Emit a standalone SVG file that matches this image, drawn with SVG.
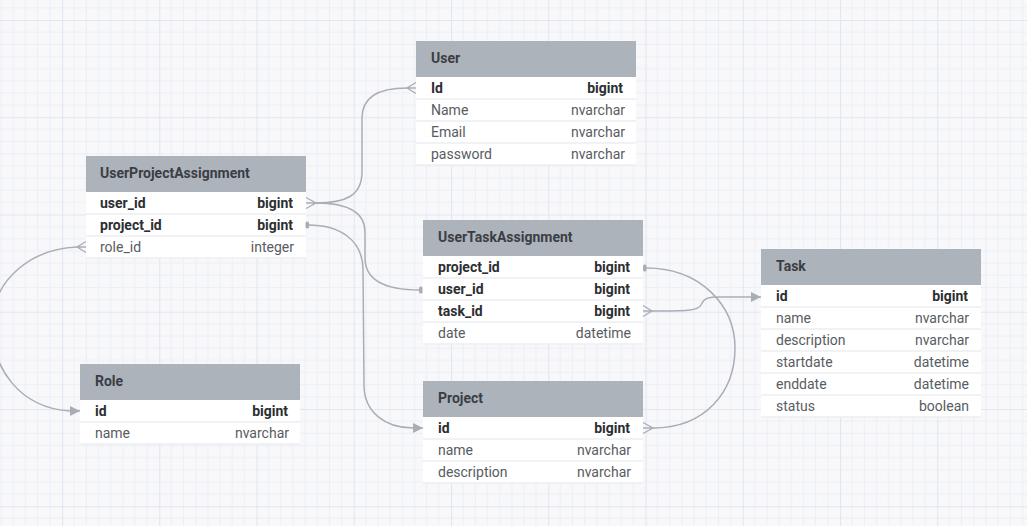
<svg xmlns="http://www.w3.org/2000/svg" width="1027" height="526" viewBox="0 0 1027 526">
  <style>
    .hdr { fill: #adb3bb; }
    .body { fill: #ffffff; }
    .sep { stroke: #eceef1; stroke-width: 1.5; }
    .title { font-family: Roboto, "Liberation Sans", sans-serif; font-size: 14px; font-weight: bold; fill: #3a3e44; }
    .k { font-family: Roboto, "Liberation Sans", sans-serif; font-size: 14px; font-weight: bold; fill: #2c2e32; }
    .f { font-family: Roboto, "Liberation Sans", sans-serif; font-size: 14px; fill: #585c62; }
    .r { text-anchor: end; }
    .conn { fill: none; stroke: #a9aeb6; stroke-width: 1.5; }
    .crow { fill: none; stroke: #a9aeb6; stroke-width: 1.3; }
    .one { fill: #a9aeb6; }
  </style>
  <defs>
    <pattern id="grid" patternUnits="userSpaceOnUse" x="62" y="20" width="97.25" height="97.25">
      <rect width="97.25" height="97.25" fill="#f8f8fa"/>
      <g stroke="#ebeff6" stroke-width="1">
        <path d="M12.16 0V97.25M24.31 0V97.25M36.47 0V97.25M48.63 0V97.25M60.78 0V97.25M72.94 0V97.25M85.09 0V97.25"/>
        <path d="M0 12.16H97.25M0 24.31H97.25M0 36.47H97.25M0 48.63H97.25M0 60.78H97.25M0 72.94H97.25M0 85.09H97.25"/>
      </g>
      <path d="M0.5 0V97.25M0 0.5H97.25" stroke="#e0e6f2" stroke-width="1.2"/>
    </pattern>
    <marker id="arrow" markerWidth="10" markerHeight="10" refX="10" refY="5" orient="auto" markerUnits="userSpaceOnUse">
      <path d="M0 0L10 5L0 10Z" fill="#a9aeb6"/>
    </marker>
  </defs>

  <rect width="1027" height="526" fill="url(#grid)"/>

  <!-- Tables -->
  <g id="UserProjectAssignment">
    <rect class="hdr" x="86" y="156" width="220" height="36"/>
    <rect class="body" x="86" y="192" width="220" height="66"/>
    <path class="sep" d="M86 214H306M86 236H306M86 258H306"/>
    <text class="title" x="100" y="178">UserProjectAssignment</text>
    <text class="k" x="100" y="208">user_id</text><text class="k r" x="293" y="208">bigint</text>
    <text class="k" x="100" y="230">project_id</text><text class="k r" x="293" y="230">bigint</text>
    <text class="f" x="100" y="252">role_id</text><text class="f r" x="294" y="252">integer</text>
  </g>

  <g id="User">
    <rect class="hdr" x="416" y="41" width="220" height="36"/>
    <rect class="body" x="416" y="77" width="220" height="88"/>
    <path class="sep" d="M416 99H636M416 121H636M416 143H636M416 165H636"/>
    <text class="title" x="431" y="63">User</text>
    <text class="k" x="431" y="93">Id</text><text class="k r" x="623" y="93">bigint</text>
    <text class="f" x="431" y="115">Name</text><text class="f r" x="625" y="115">nvarchar</text>
    <text class="f" x="431" y="137">Email</text><text class="f r" x="625" y="137">nvarchar</text>
    <text class="f" x="431" y="159">password</text><text class="f r" x="625" y="159">nvarchar</text>
  </g>

  <g id="UserTaskAssignment">
    <rect class="hdr" x="423" y="220" width="220" height="36"/>
    <rect class="body" x="423" y="256" width="220" height="88"/>
    <path class="sep" d="M423 278H643M423 300H643M423 322H643M423 344H643"/>
    <text class="title" x="438" y="242">UserTaskAssignment</text>
    <text class="k" x="438" y="272">project_id</text><text class="k r" x="630" y="272">bigint</text>
    <text class="k" x="438" y="294">user_id</text><text class="k r" x="630" y="294">bigint</text>
    <text class="k" x="438" y="316">task_id</text><text class="k r" x="630" y="316">bigint</text>
    <text class="f" x="438" y="338">date</text><text class="f r" x="631" y="338">datetime</text>
  </g>

  <g id="Task">
    <rect class="hdr" x="761" y="249" width="220" height="36"/>
    <rect class="body" x="761" y="285" width="220" height="132"/>
    <path class="sep" d="M761 307H981M761 329H981M761 351H981M761 373H981M761 395H981M761 417H981"/>
    <text class="title" x="776" y="271">Task</text>
    <text class="k" x="776" y="301">id</text><text class="k r" x="968" y="301">bigint</text>
    <text class="f" x="776" y="323">name</text><text class="f r" x="969" y="323">nvarchar</text>
    <text class="f" x="776" y="345">description</text><text class="f r" x="969" y="345">nvarchar</text>
    <text class="f" x="776" y="367">startdate</text><text class="f r" x="969" y="367">datetime</text>
    <text class="f" x="776" y="389">enddate</text><text class="f r" x="969" y="389">datetime</text>
    <text class="f" x="776" y="411">status</text><text class="f r" x="969" y="411">boolean</text>
  </g>

  <g id="Role">
    <rect class="hdr" x="80" y="364" width="220" height="36"/>
    <rect class="body" x="80" y="400" width="220" height="44"/>
    <path class="sep" d="M80 422H300M80 444H300"/>
    <text class="title" x="95" y="386">Role</text>
    <text class="k" x="95" y="416">id</text><text class="k r" x="288" y="416">bigint</text>
    <text class="f" x="95" y="438">name</text><text class="f r" x="289" y="438">nvarchar</text>
  </g>

  <g id="Project">
    <rect class="hdr" x="423" y="381" width="220" height="36"/>
    <rect class="body" x="423" y="417" width="220" height="66"/>
    <path class="sep" d="M423 439H643M423 461H643M423 483H643"/>
    <text class="title" x="438" y="403">Project</text>
    <text class="k" x="438" y="433">id</text><text class="k r" x="630" y="433">bigint</text>
    <text class="f" x="438" y="455">name</text><text class="f r" x="631" y="455">nvarchar</text>
    <text class="f" x="438" y="477">description</text><text class="f r" x="631" y="477">nvarchar</text>
  </g>

  <!-- Connectors -->
  <g id="connectors">
    <!-- UPA.user_id -> User.Id -->
    <path class="conn" d="M316 203C345 203 362 196 362 172L362 118C362 98 378 88 407 88"/>
    <path class="crow" d="M306 197.5L316 203L306 208.5M306 203H316"/>
    <path class="crow" d="M416 82.5L407 88L416 93.5M416 88H407"/>
    <!-- UPA.user_id -> UTA.user_id -->
    <path class="conn" d="M316 203C345 203 365 210 365 232L365 258C365 280 385 290 420 290"/>
    <rect class="one" x="419" y="286.5" width="3.5" height="7" rx="1.5"/>
    <!-- UPA.project_id -> Project.id -->
    <path class="conn" d="M308 225C340 225 363 240 363 270L364 385C364 412 385 428 413 428L423 428" marker-end="url(#arrow)"/>
    <rect class="one" x="305.5" y="221.5" width="3.5" height="7" rx="1.5"/>
    <!-- UPA.role_id -> Role.id -->
    <path class="conn" d="M77 247C30 249 -5 280 -8 320C-10 368 20 408 70 411L80 411" marker-end="url(#arrow)"/>
    <path class="crow" d="M86 241.5L77 247L86 252.5M86 247H77"/>
    <!-- UTA.project_id -> Project.id (right) -->
    <path class="conn" d="M646 268C700 268 735 305 735 348C735 392 705 428 653 428"/>
    <rect class="one" x="643" y="264.5" width="3.5" height="7" rx="1.5"/>
    <path class="crow" d="M643 422.5L653 428L643 433.5M643 428H653"/>
    <!-- UTA.task_id -> Task.id -->
    <path class="conn" d="M652 311C685 311 698 311 701 305C704 298 708 297 720 297L761 297" marker-end="url(#arrow)"/>
    <path class="crow" d="M643 305.5L652 311L643 316.5M643 311H652"/>
  </g>
</svg>
